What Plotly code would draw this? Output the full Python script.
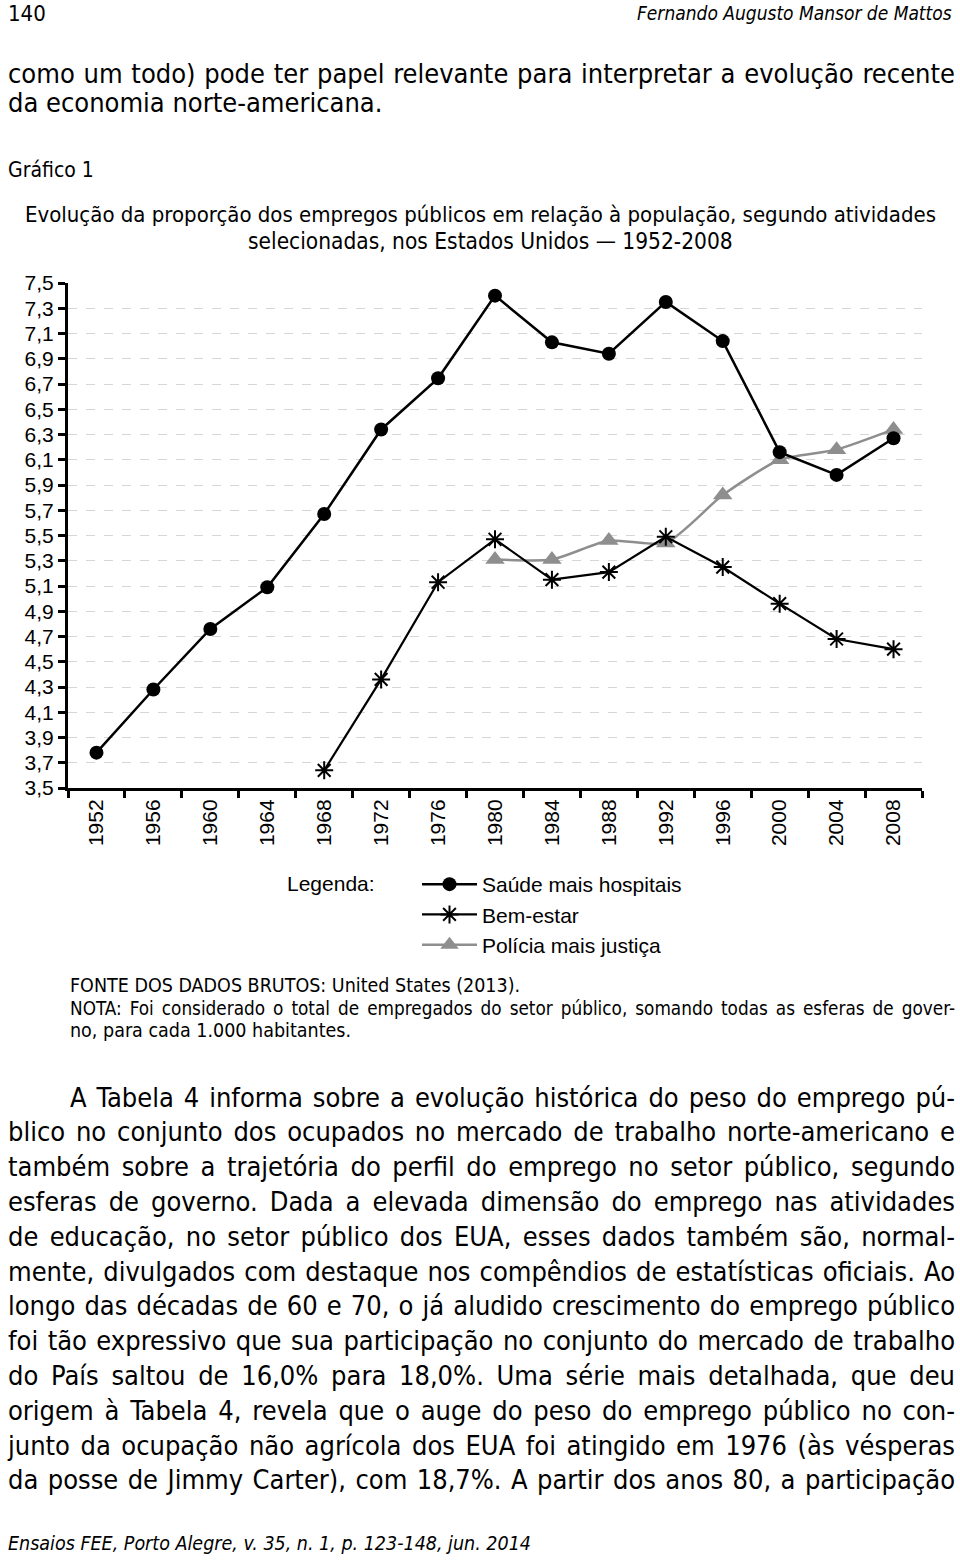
import json
import plotly.graph_objects as go

years = ["1952", "1956", "1960", "1964", "1968", "1972", "1976", "1980",
         "1984", "1988", "1992", "1996", "2000", "2004", "2008"]
saude = [3.78, 4.28, 4.76, 5.09, 5.67, 6.34, 6.745, 7.40, 7.03, 6.94, 7.35, 7.04, 6.16, 5.98, 6.27]
bem_estar = [None, None, None, None, 3.64, 4.36, 5.13, 5.47, 5.15, 5.21, 5.49, 5.25, 4.96, 4.68, 4.60]
policia = [None, None, None, None, None, None, None, 5.31, 5.31, 5.46, 5.44, 5.82, 6.10, 6.18, 6.34]
y_ticks = [3.5, 3.7, 3.9, 4.1, 4.3, 4.5, 4.7, 4.9, 5.1, 5.3, 5.5, 5.7, 5.9, 6.1, 6.3, 6.5, 6.7, 6.9, 7.1, 7.3, 7.5]
y_tick_labels = [f"{v:.1f}".replace(".", ",") for v in y_ticks]

W, H = 960, 1561
L, R, T, B = 68, 922, 283, 788
NARROW = "Liberation Sans Narrow, Arial Narrow, DejaVu Sans Condensed, sans-serif"
ARIAL = "Liberation Sans, Arial, Helvetica, sans-serif"


def px(x):
    return (x - L) / (R - L)


def py(y):
    return (B - y) / (B - T)


fig = go.Figure()
fig.add_trace(go.Scatter(
    x=years, y=policia, name="Polícia mais justiça", mode="lines+markers",
    line=dict(color="#8e8e8e", width=2.5, shape="spline", smoothing=0.6),
    marker=dict(symbol="triangle-up", size=17, color="#8e8e8e"),
    legendrank=3))
fig.add_trace(go.Scatter(
    x=years, y=bem_estar, name="Bem-estar", mode="lines+markers",
    line=dict(color="black", width=2.2),
    marker=dict(symbol="asterisk-open", size=15, line=dict(color="black", width=2)),
    legendrank=2))
fig.add_trace(go.Scatter(
    x=years, y=saude, name="Saúde mais hospitais", mode="lines+markers",
    line=dict(color="black", width=2.5),
    marker=dict(symbol="circle", size=14, color="black"),
    legendrank=1))

ann = []
justify = []  # (annotation index, target width)


def text(x, y, s, size, family=NARROW, xanchor="left", italic=False, right=None):
    if right is not None:
        justify.append([len(ann), right - x])
    ann.append(dict(x=px(x), y=py(y), xref="paper", yref="paper", text=s,
                    showarrow=False, xanchor=xanchor, yanchor="middle",
                    font=dict(size=size, family=family, color="black",
                              style="italic" if italic else "normal")))


text(6, 13, "140", 22)
text(954, 13, "Fernando Augusto Mansor de Mattos", 19, xanchor="right", italic=True)
text(6, 73, "como um todo) pode ter papel relevante para interpretar a evolução recente", 27, right=953)
text(6, 103, "da economia norte-americana.", 27)
text(6, 170, "Gráfico 1", 21)
text(480, 214, "Evolução da proporção dos empregos públicos em relação à população, segundo atividades", 22, xanchor="center")
text(490, 241, "selecionadas, nos Estados Unidos — 1952-2008", 22.5, xanchor="center")
text(285, 883, "Legenda:", 21, family=ARIAL)
text(68, 985, "FONTE DOS DADOS BRUTOS: United States (2013).", 19.5)
text(68, 1008, "NOTA: Foi considerado o total de empregados do setor público, somando todas as esferas de gover-", 18.8, right=953)
text(68, 1030, "no, para cada 1.000 habitantes.", 19.5)

body = [
    (68, "A Tabela 4 informa sobre a evolução histórica do peso do emprego pú-"),
    (6, "blico no conjunto dos ocupados no mercado de trabalho norte-americano e"),
    (6, "também sobre a trajetória do perfil do emprego no setor público, segundo"),
    (6, "esferas de governo. Dada a elevada dimensão do emprego nas atividades"),
    (6, "de educação, no setor público dos EUA, esses dados também são, normal-"),
    (6, "mente, divulgados com destaque nos compêndios de estatísticas oficiais. Ao"),
    (6, "longo das décadas de 60 e 70, o já aludido crescimento do emprego público"),
    (6, "foi tão expressivo que sua participação no conjunto do mercado de trabalho"),
    (6, "do País saltou de 16,0% para 18,0%. Uma série mais detalhada, que deu"),
    (6, "origem à Tabela 4, revela que o auge do peso do emprego público no con-"),
    (6, "junto da ocupação não agrícola dos EUA foi atingido em 1976 (às vésperas"),
    (6, "da posse de Jimmy Carter), com 18,7%. A partir dos anos 80, a participação"),
]
for i, (x0, line) in enumerate(body):
    text(x0, 1097 + i * 34.8, line, 27, right=953)

text(6, 1543, "Ensaios FEE, Porto Alegre, v. 35, n. 1, p. 123-148, jun. 2014", 19.5, italic=True)

fig.update_layout(
    width=W, height=H,
    margin=dict(l=L, r=W - R, t=T, b=H - B, pad=0),
    paper_bgcolor="white", plot_bgcolor="white",
    font=dict(family=ARIAL, size=21, color="black"),
    showlegend=True,
    legend=dict(x=px(417), y=py(864), xanchor="left", yanchor="top",
                font=dict(size=21, family=ARIAL), bgcolor="rgba(0,0,0,0)",
                traceorder="normal", itemwidth=55, tracegroupgap=0),
    annotations=ann,
)
fig.update_xaxes(
    type="category", categoryorder="array", categoryarray=years,
    range=[-0.5, len(years) - 0.5], tickson="boundaries",
    showline=True, linecolor="black", linewidth=3,
    ticks="outside", ticklen=7, tickwidth=2.5, tickcolor="black",
    tickangle=-90, tickfont=dict(size=21, family=ARIAL),
    showgrid=False, zeroline=False, fixedrange=True)
fig.update_yaxes(
    range=[3.5, 7.5], tickmode="array", tickvals=y_ticks, ticktext=y_tick_labels,
    showline=True, linecolor="black", linewidth=3,
    ticks="outside", ticklen=7, tickwidth=2.5, tickcolor="black",
    tickfont=dict(size=21, family=ARIAL),
    showgrid=True, gridcolor="#d6d6d6", gridwidth=1, griddash="dash",
    zeroline=False, fixedrange=True)

post = """
document.body.style.margin = '0';
document.body.style.padding = '0';
var gd = document.getElementById('{plot_id}');
var J = %s;
var texts = gd.querySelectorAll('.annotation-text');
J.forEach(function(p) {
  var t = texts[p[0]];
  if (!t) return;
  var n = (t.textContent.match(/ /g) || []).length;
  var bb = t.getBBox();
  var w = t.getComputedTextLength();
  if (n > 0 && p[1] > w) {
    t.setAttribute('text-anchor', 'start');
    t.setAttribute('x', bb.x);
    t.style.wordSpacing = ((p[1] - w) / n) + 'px';
  }
});
""" % json.dumps(justify)

fig.write_html("out.html", post_script=post, config={"displayModeBar": False})
